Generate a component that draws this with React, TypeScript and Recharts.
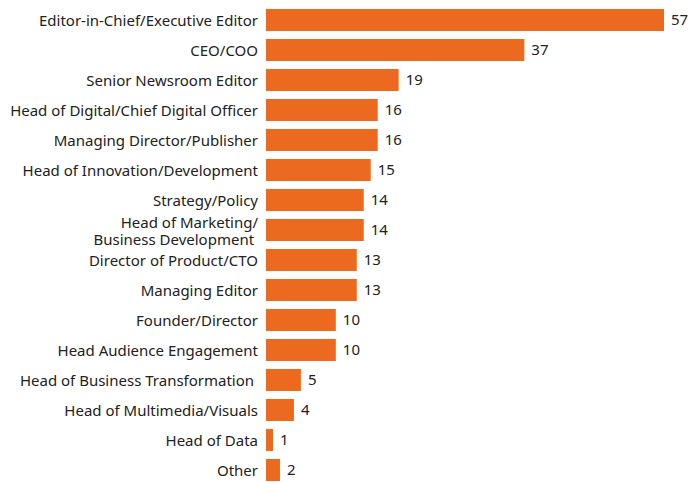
import { Bar, BarChart, LabelList, XAxis, YAxis } from 'recharts';

const ROLES = [
  'Editor-in-Chief/Executive Editor',
  'CEO/COO',
  'Senior Newsroom Editor',
  'Head of Digital/Chief Digital Officer',
  'Managing Director/Publisher',
  'Head of Innovation/Development',
  'Strategy/Policy',
  'Head of Marketing/\nBusiness Development ',
  'Director of Product/CTO',
  'Managing Editor',
  'Founder/Director',
  'Head Audience Engagement',
  'Head of Business Transformation ',
  'Head of Multimedia/Visuals',
  'Head of Data',
  'Other',
];

const COUNTS = [57, 37, 19, 16, 16, 15, 14, 14, 13, 13, 10, 10, 5, 4, 1, 2];

const BAR_COLOR = '#ec6a1f';
const TEXT_COLOR = '#222';
const FONT = '"Noto Sans", sans-serif';

const data = ROLES.map((role, i) => ({ role, count: COUNTS[i] }));

function RoleTick({ x, y, payload }: any) {
  const lines = String(payload.value).split('\n');
  const lineHeight = 17;
  const startDy = -((lines.length - 1) * lineHeight) / 2;
  return (
    <text
      x={x}
      y={y}
      textAnchor="end"
      fill={TEXT_COLOR}
      fontSize={15}
      fontFamily={FONT}
      style={{ whiteSpace: 'pre' }}
    >
      {lines.map((line, i) => (
        <tspan key={i} x={x} dy={i === 0 ? startDy : lineHeight} dominantBaseline="central">
          {line}
        </tspan>
      ))}
    </text>
  );
}

export default function App() {
  return (
    <div style={{ position: 'absolute', left: 0, top: 0, width: 696, height: 482, overflow: 'hidden', background: '#fff' }}>
      <BarChart
        width={696}
        height={490}
        data={data}
        layout="vertical"
        margin={{ top: 5, right: 32, bottom: 5, left: 0 }}
      >
        <XAxis type="number" domain={[0, 57]} hide />
        <YAxis
          type="category"
          dataKey="role"
          width={266}
          axisLine={false}
          tickLine={false}
          tickMargin={2}
          interval={0}
          tick={<RoleTick />}
        />
        <Bar dataKey="count" fill={BAR_COLOR} barSize={22} isAnimationActive={false}>
          <LabelList
            dataKey="count"
            position="right"
            offset={7}
            fill={TEXT_COLOR}
            fontSize={15}
            fontFamily={FONT}
          />
        </Bar>
      </BarChart>
    </div>
  );
}
